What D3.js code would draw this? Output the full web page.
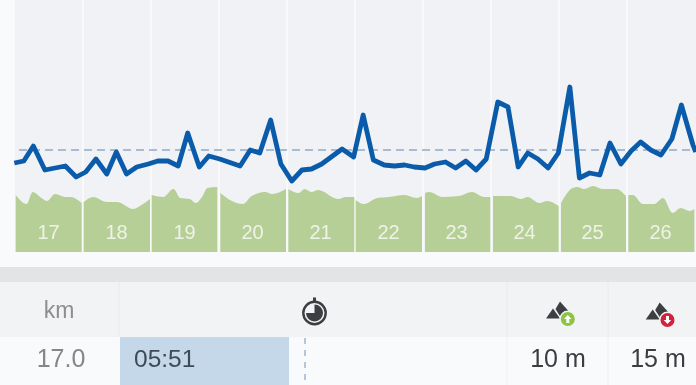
<!DOCTYPE html>
<html><head><meta charset="utf-8">
<script src="https://cdn.jsdelivr.net/npm/d3@7/dist/d3.min.js"></script>
<style>html,body{margin:0;padding:0;background:#f9fafc;overflow:hidden}svg{display:block;filter:blur(0.45px)}text{font-family:"Liberation Sans",Arial,sans-serif}</style>
</head><body><svg id="c" width="696" height="385"></svg>
<script>
const kmLabels = [17,18,19,20,21,22,23,24,25,26];
const avgPace = 351;
const paceKm = [15.99,16.13,16.27,16.44,16.74,16.90,17.04,17.19,17.35,17.49,17.64,17.79,17.96,18.10,18.25,18.40,18.54,18.71,18.85,19.01,19.31,19.46,19.60,19.76,19.91,20.07,20.22,20.36,20.51,20.81,20.98,21.12,21.27,21.43,21.58,21.73,21.87,22.03,22.17,22.33,22.48,22.63,22.78,22.93,23.10,23.25,23.40,23.54,23.69,23.84,23.99,24.16,24.30,24.45,24.60,24.75,24.91,25.06,25.20,25.35,25.50,25.66,25.80,25.97,26.01];
const paceSec = [357.5,356.5,349,361,359,364.5,362,355.5,363,352,363,359.5,358,356.5,356.5,359,342.5,359.5,354,355.5,359,351,352.5,336,358,366.5,361,360.5,358,350.5,354.5,333.5,356,358.5,359,358.5,359.5,360,358,357,360,356.5,361,355.5,327,329.5,359.5,352.5,355.5,360,352.5,319.5,365,362.5,363.5,347.5,358,351.5,347,351,353.5,345.5,328.5,348.5,352];
const elevKm = [16.01,16.17,16.26,16.39,16.47,16.59,16.74,16.82,16.98, 17.01,17.15,17.35,17.50,17.74,17.86,17.985, 18.01,18.18,18.33,18.43,18.57,18.66,18.75,18.83,18.975, 19.02,19.19,19.35,19.48,19.68,19.78,19.985, 20.02,20.17,20.26,20.36,20.46,20.75,20.87,20.99, 21.01,21.13,21.33,21.50,21.73,21.90,21.985, 22.03,22.09,22.29,22.53,22.72,22.90,22.99, 23.03,23.29,23.44,23.54,23.71,23.83,23.995, 24.03,24.20,24.27,24.37,24.50,24.64,24.84,24.985, 25.02,25.09,25.23,25.40,25.53,25.67,25.79,25.92,25.99];
const elevM = [57,48,60,54,51,58,55,55,49, 50,55,50,50,43,47,53, 57,55,63,54,53,49,55,64,65, 59,51,48,56,60,58,63, 63,59,63,60,62,53,55,55, 52,48,54,55,57,54,56, 59,60,55,56,60,55,55, 56,56,53,55,49,51,46, 49,64,65,63,66,63,63,56, 57,57,48,48,54,39,44,41,43];
const rowKm = "17.0", rowPace = "05:51", rowUp = "10 m", rowDown = "15 m", headKm = "km";

const svg = d3.select("#c");
const x = d3.scaleLinear().domain([16,26]).range([15,695]);
const yPace = d3.scaleLinear().domain([276,401]).range([0,250]);
const yElev = d3.scaleLinear().domain([0,100]).range([252,152]);

// page blocks
const rect=(X,Y,W,H,f)=>svg.append("rect").attr("x",X).attr("y",Y).attr("width",W).attr("height",H).attr("fill",f);
rect(-3,-3,702,391,"#f9fafc");
rect(15,-3,684,255,"#f1f2f5");
rect(-3,267,702,15,"#e3e4e6");
rect(-3,282,702,55,"#f2f3f5");
rect(120,337,169,51,"#c5d8ea");

// grid separators
svg.append("g").selectAll("line").data(d3.range(17,26)).join("line")
  .attr("x1",d=>x(d)).attr("x2",d=>x(d)).attr("y1",-3).attr("y2",252)
  .attr("stroke","#fbfbf9").attr("stroke-width",1.6);

// elevation areas, one per km
const area = d3.area().curve(d3.curveMonotoneX).x(d=>x(d.k)).y0(yElev(0)).y1(d=>yElev(d.m));
const pts = elevKm.map((k,i)=>({k,m:elevM[i]}));
svg.append("g").selectAll("path").data(d3.groups(pts,d=>Math.floor(d.k)).map(d=>d[1])).join("path")
  .attr("d",area).attr("fill","#b5cf96");

// km labels
const ax = svg.append("g").attr("transform",`translate(-1,${yElev(0)-20})`)
  .call(d3.axisBottom(x).tickValues(kmLabels.map(d=>d-0.5)).tickFormat(d=>d+0.5).tickSize(0));
ax.select(".domain").remove();
ax.selectAll("text").attr("font-size",20).attr("fill","#eef3e6").attr("y",0).attr("dy","0.35em")
  .attr("font-family","Liberation Sans, Arial, sans-serif");

// average line
svg.append("line").attr("x1",19).attr("x2",699).attr("y1",yPace(avgPace)).attr("y2",yPace(avgPace))
  .attr("stroke","#8ea9c9").attr("stroke-width",1.5).attr("stroke-dasharray","8 5");

// pace line
svg.append("path").attr("d",d3.line().x(d=>x(d[0])).y(d=>yPace(d[1]))(paceKm.map((k,i)=>[k,paceSec[i]])))
  .attr("fill","none").attr("stroke","#0a5cab").attr("stroke-width",4.8).attr("stroke-linejoin","round");

// table
[[119,282,337,"#e9eaec"],[507,282,337,"#e9eaec"],[608,282,337,"#e9eaec"],[507,337,388,"#eff0f2"],[608,337,388,"#eff0f2"]].forEach(l=>
  svg.append("line").attr("x1",l[0]).attr("x2",l[0]).attr("y1",l[1]).attr("y2",l[2]).attr("stroke",l[3]));
svg.append("line").attr("x1",305).attr("x2",305).attr("y1",338).attr("y2",388)
  .attr("stroke","#6f93b5").attr("stroke-width",1).attr("stroke-dasharray","6 6");
const T=(X,Y,s,sz,f,a)=>svg.append("text").attr("x",X).attr("y",Y).attr("font-size",sz).attr("fill",f).attr("text-anchor",a||"middle").text(s);
T(59,318,headKm,23,"#8d8e90");
T(61,367,rowKm,25,"#858688");
T(134,367,rowPace,24.5,"#3f4a59","start");
T(558,367,rowUp,25,"#3c3d40");
T(658,367,rowDown,25,"#3c3d40");

// stopwatch icon
const sw=svg.append("g").attr("transform","translate(314.5,313)");
sw.append("circle").attr("r",11.2).attr("fill","none").attr("stroke","#3d3e42").attr("stroke-width",2.4);
sw.append("path").attr("d",d3.arc().innerRadius(0).outerRadius(8.5)({startAngle:0,endAngle:Math.PI*1.5})).attr("fill","#3d3e42");
sw.append("rect").attr("x",-1.5).attr("y",-15.5).attr("width",3).attr("height",3.5).attr("fill","#3d3e42");

// mountain icons
function mtn(ox,oy,col,up){
  const g=svg.append("g").attr("transform",`translate(${ox},${oy})`);
  g.append("path").attr("d","M546,318.5 L553,308.5 L560,318.5 Z").attr("fill","#3d3e42");
  g.append("path").attr("d","M555.5,309 L560,301.5 L568.5,311 L561.5,318.5 Z").attr("fill","#3d3e42");
  g.append("circle").attr("cx",567.8).attr("cy",319).attr("r",8.4).attr("fill","#f2f3f5");
  g.append("circle").attr("cx",567.8).attr("cy",319).attr("r",7).attr("fill",col);
  g.append("path").attr("d",up?"M567.8,315 L571.5,319 L569.3,319 L569.3,323 L566.3,323 L566.3,319 L564,319 Z":"M567.8,323 L571.5,319 L569.3,319 L569.3,315 L566.3,315 L566.3,319 L564,319 Z").attr("fill","#fff");
}
mtn(0,0,"#8cc63f",true);
mtn(99.7,1,"#d4213d",false);
</script></body></html>
